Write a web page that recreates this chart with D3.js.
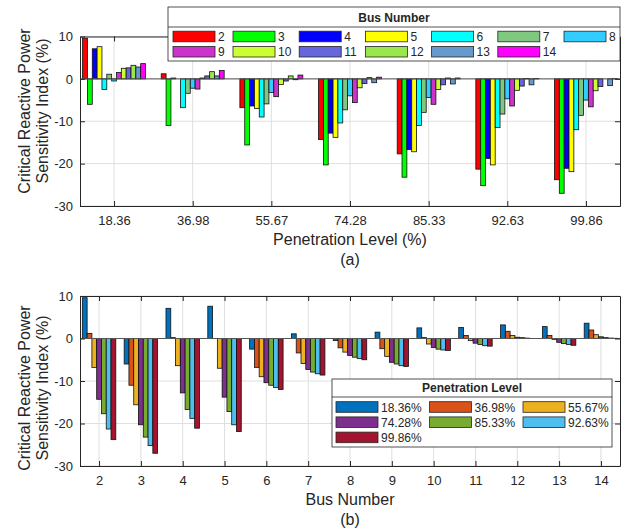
<!DOCTYPE html>
<html>
<head>
<meta charset="utf-8">
<script src="https://cdn.jsdelivr.net/npm/d3@7"></script>
<style>
  body { margin: 0; background: #fff; }
  text { font-family: Arial, "Liberation Sans", Helvetica, sans-serif; fill: #262626; }
</style>
</head>
<body>
<script>
// penetration levels (groups of panel a, series of panel b)
const levels = ['18.36', '36.98', '55.67', '74.28', '85.33', '92.63', '99.86'];
// bus numbers (series of panel a, groups of panel b)
const buses = ['2', '3', '4', '5', '6', '7', '8', '9', '10', '11', '12', '13', '14'];
const yTicks = [-30, -20, -10, 0, 10];

// sensitivity index (%) of each bus, one value per penetration level
const bus2  = [9.6, 1.2, -6.8, -14.3, -17.7, -21.3, -23.8];
const bus3  = [-6.0, -11.0, -15.6, -20.3, -23.2, -25.2, -27.0];
const bus4  = [7.1, 0.2, -6.4, -12.8, -16.7, -18.8, -21.1];
const bus5  = [7.6, 0.0, -7.0, -13.8, -17.2, -20.3, -21.9];
const bus6  = [-2.5, -6.8, -9.0, -10.4, -11.0, -11.5, -12.0];
const bus7  = [1.1, -3.4, -5.9, -7.3, -7.9, -8.3, -8.6];
const bus8  = [-0.5, -2.2, -3.2, -4.0, -4.4, -4.7, -5.0];
const bus9  = [1.5, -2.4, -4.2, -5.6, -6.0, -6.4, -6.6];
const bus10 = [2.5, 0.2, -1.3, -2.1, -2.5, -2.7, -2.8];
const bus11 = [2.6, 0.7, -0.5, -1.1, -1.4, -1.7, -1.8];
const bus12 = [3.2, 1.7, 0.7, 0.3, 0.2, 0.1, 0.0];
const bus13 = [2.8, 0.7, -0.2, -0.9, -1.2, -1.4, -1.6];
const bus14 = [3.6, 2.0, 0.9, 0.4, 0.2, 0.1, 0.05];

const busColors = ['#ff0000', '#00ff00', '#0000ff', '#ffff00', '#00ffff', '#80c880', '#33ccff',
                   '#cc33cc', '#ccff33', '#6666dd', '#99e64d', '#6699cc', '#ff00ff'];
const levelColors = ['#0072bd', '#d95319', '#edb120', '#7e2f8e', '#77ac30', '#4dbeee', '#a2142f'];

function main(){
    const width = 628; // svg width
    const height = 530; // svg height
    const left = 80, right = 620; // plot area x range (both panels)

    const values = [bus2, bus3, bus4, bus5, bus6, bus7, bus8, bus9, bus10, bus11, bus12, bus13, bus14];

    const svg = d3.select('body')
        .append('svg')
        .attr('width', width)
        .attr('height', height);

    svg.append('rect').attr('width', width).attr('height', height).attr('fill', '#fff');

    function drawPanel(cfg){
        const n = cfg.groups.length;
        const x = d3.scaleLinear()
            .domain([1 - cfg.pad, n + cfg.pad])
            .range([left, right]);
        const y = d3.scaleLinear()
            .domain([-30, 10])
            .range([cfg.bottom, cfg.top]);

        const groupW = x(1.8) - x(1); // grouped bars take 0.8 of a slot
        const sub = d3.scaleBand()
            .domain(cfg.series)
            .range([-groupW / 2, groupW / 2]);

        const g = svg.append('g');

        // grid
        g.append('g').selectAll('line')
            .data(d3.range(1, n + 1))
            .enter().append('line')
            .attr('x1', d => x(d)).attr('x2', d => x(d))
            .attr('y1', cfg.top).attr('y2', cfg.bottom)
            .attr('stroke', '#dfdfdf');
        g.append('g').selectAll('line')
            .data(yTicks)
            .enter().append('line')
            .attr('x1', left).attr('x2', right)
            .attr('y1', d => y(d)).attr('y2', d => y(d))
            .attr('stroke', '#dfdfdf');

        // bars
        const rows = [];
        cfg.groups.forEach((gr, gi) => {
            cfg.series.forEach((s, si) => {
                rows.push({gi: gi, si: si, s: s, v: cfg.value(gi, si)});
            });
        });
        g.append('g').selectAll('rect')
            .data(rows)
            .enter().append('rect')
            .attr('x', d => x(d.gi + 1) + sub(d.s))
            .attr('width', sub.bandwidth())
            .attr('y', d => y(Math.max(d.v, 0)))
            .attr('height', d => Math.abs(y(d.v) - y(0)))
            .attr('fill', d => cfg.colors[d.si])
            .attr('stroke', '#111')
            .attr('stroke-width', 0.8);

        // baseline
        g.append('line')
            .attr('x1', left).attr('x2', right)
            .attr('y1', y(0)).attr('y2', y(0))
            .attr('stroke', '#555').attr('stroke-width', 1);

        // axes on all four sides, ticks pointing in
        const xb = g.append('g')
            .attr('transform', `translate(0,${cfg.bottom})`)
            .call(d3.axisBottom(x).tickValues(d3.range(1, n + 1))
                .tickFormat(i => cfg.groups[i - 1])
                .tickSizeInner(-5).tickSizeOuter(0).tickPadding(10));
        const xt = g.append('g')
            .attr('transform', `translate(0,${cfg.top})`)
            .call(d3.axisTop(x).tickValues(d3.range(1, n + 1))
                .tickFormat('').tickSizeInner(-5).tickSizeOuter(0));
        const yl = g.append('g')
            .attr('transform', `translate(${left},0)`)
            .call(d3.axisLeft(y).tickValues(yTicks)
                .tickFormat(d => String(d))
                .tickSizeInner(-5).tickSizeOuter(0).tickPadding(7));
        const yr = g.append('g')
            .attr('transform', `translate(${right},0)`)
            .call(d3.axisRight(y).tickValues(yTicks)
                .tickFormat('').tickSizeInner(-5).tickSizeOuter(0));

        [xb, xt, yl, yr].forEach(a => {
            a.attr('font-family', null).attr('font-size', null);
            a.select('.domain').attr('stroke', '#262626');
            a.selectAll('.tick line').attr('stroke', '#262626');
            a.selectAll('.tick text').attr('fill', '#262626').style('font-size', '13px');
        });

        // axis titles
        const yl1 = g.append('text')
            .attr('transform', `translate(30,${cfg.yLabelY}) rotate(-90)`)
            .attr('text-anchor', 'middle')
            .style('font-size', '16px')
            .text('Critical Reactive Power');
        const yl2 = g.append('text')
            .attr('transform', `translate(48,${cfg.yLabelY}) rotate(-90)`)
            .attr('text-anchor', 'middle')
            .style('font-size', '16px')
            .text('Sensitivity Index (%)');
        g.append('text')
            .attr('x', (left + right) / 2).attr('y', cfg.bottom + 39)
            .attr('text-anchor', 'middle')
            .style('font-size', '16px')
            .text(cfg.xLabel);
        g.append('text')
            .attr('x', (left + right) / 2).attr('y', cfg.bottom + 59)
            .attr('text-anchor', 'middle')
            .style('font-size', '16px')
            .text(cfg.panel);

        // legend
        const L = cfg.legend;
        const lg = svg.append('g');
        lg.append('rect')
            .attr('x', L.x).attr('y', L.y).attr('width', L.w).attr('height', L.h)
            .attr('fill', '#fff').attr('stroke', '#262626').attr('stroke-width', 0.8);
        lg.append('line')
            .attr('x1', L.x).attr('x2', L.x + L.w)
            .attr('y1', L.y + L.titleH).attr('y2', L.y + L.titleH)
            .attr('stroke', '#262626').attr('stroke-width', 0.8);
        lg.append('text')
            .attr('x', L.x + L.w / 2).attr('y', L.y + L.titleH - 5.5)
            .attr('text-anchor', 'middle')
            .style('font-size', '12px').style('font-weight', 'bold')
            .text(L.title);
        const items = lg.selectAll('.item')
            .data(cfg.series)
            .enter().append('g')
            .attr('class', 'item')
            .attr('transform', (d, i) => `translate(${L.colX(i % L.cols)},${L.rowY + Math.floor(i / L.cols) * 15.2})`);
        items.append('rect')
            .attr('x', 0).attr('y', -5.3).attr('width', 42).attr('height', 10.6)
            .attr('fill', (d, i) => cfg.colors[i])
            .attr('stroke', '#262626').attr('stroke-width', 0.8);
        items.append('text')
            .attr('x', 45).attr('y', 4.5)
            .style('font-size', '12px')
            .text(d => d + L.suffix);
    }

    // panel (a): grouped by penetration level, one bar per bus
    drawPanel({
        groups: levels, series: buses, colors: busColors,
        value: (gi, si) => values[si][gi],
        pad: 0.433, top: 36.5, bottom: 206, yLabelY: 111,
        xLabel: 'Penetration Level (%)', panel: '(a)',
        legend: {x: 168, y: 7, w: 452, h: 54, titleH: 20, title: 'Bus Number',
                 cols: 7, rowY: 36.5, suffix: '',
                 colX: c => 173 + (c === 0 ? 0 : 60 + (c - 1) * 66.2)}
    });

    // panel (b): grouped by bus, one bar per penetration level
    drawPanel({
        groups: buses, series: levels, colors: levelColors,
        value: (gi, si) => values[gi][si],
        pad: 0.456, top: 296, bottom: 466, yLabelY: 388,
        xLabel: 'Bus Number', panel: '(b)',
        legend: {x: 332, y: 379, w: 280, h: 68, titleH: 18, title: 'Penetration Level',
                 cols: 3, rowY: 407, suffix: '%',
                 colX: c => 336 + c * 93.5}
    });
}

main();
</script>
</body>
</html>
